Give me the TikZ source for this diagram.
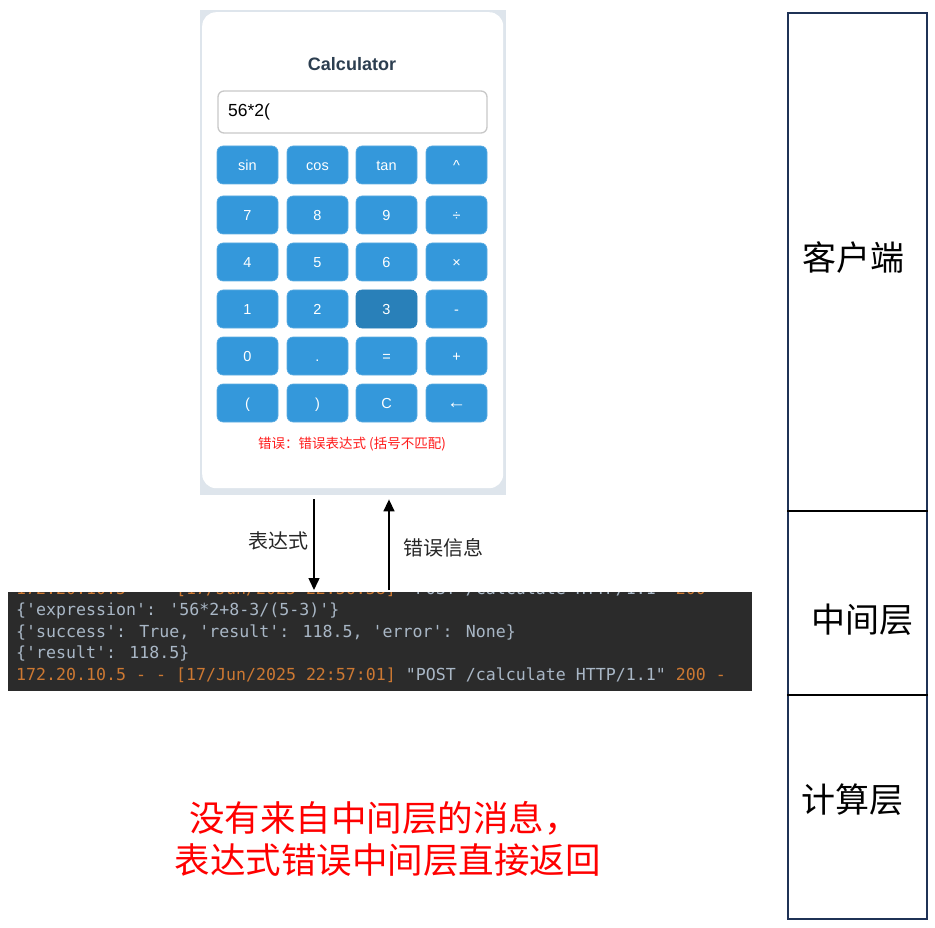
\documentclass[tikz,border=0pt]{standalone}
\usepackage{fontspec}
\setmainfont{Liberation Sans}
\newfontfamily\cjk{Noto Sans CJK SC}
\newfontfamily\mono{DejaVu Sans Mono}
\usetikzlibrary{arrows.meta}
\definecolor{bgc}{HTML}{DEE5EC}
\definecolor{btnc}{HTML}{3498DB}
\definecolor{btnb}{HTML}{5DADE2}
\definecolor{btnd}{HTML}{2980B9}
\definecolor{titlec}{HTML}{2C3E50}
\definecolor{inputb}{HTML}{C8C8C8}
\definecolor{termbg}{HTML}{2B2B2B}
\definecolor{termtxt}{HTML}{A9B7C6}
\definecolor{termor}{HTML}{CC7832}
\definecolor{navy}{HTML}{1F3256}
\definecolor{errred}{HTML}{FF1A1A}
\tikzset{
  btn/.style={fill=btnc, draw=btnb, line width=0.6, rounded corners=6, minimum width=61, minimum height=38, inner sep=0, text=white, text height=10.4pt, text depth=0pt, font=\fontsize{14.5}{16}\selectfont},
  btnpressed/.style={btn, fill=btnd, draw=btnd},
  tline/.style={anchor=base west, inner sep=0, font=\mono\fontsize{16.6}{20}\selectfont, text=termtxt},
  arr/.style={line width=1.5, -{Triangle[length=12pt,width=11pt]}},
  arrlabel/.style={font=\cjk\fontsize{20}{24}\selectfont, text=black!85},
  layerlabel/.style={font=\cjk\fontsize{34}{40}\selectfont, text=black},
  note/.style={font=\cjk\fontsize{35.5}{42}\selectfont, text=red},
}
\begin{document}
\begin{tikzpicture}[x=1pt,y=-1pt]
\useasboundingbox (0,0) rectangle (935,928);
\fill[white] (0,0) rectangle (935,928);

% calculator screenshot
\node[fill=bgc, minimum width=306, minimum height=485, anchor=north west, inner sep=0] (calc) at (200,10) {};
\node[fill=white, rounded corners=14, minimum width=301, minimum height=476, inner sep=0, anchor=north west] (card) at (202,12) {};
\node[font=\bfseries\fontsize{18}{20}\selectfont, text=titlec] (title) at (352,64) {Calculator};
\node[draw=inputb, line width=1.3, fill=white, rounded corners=6, minimum width=269, minimum height=42, inner sep=0] (input) at (352.5,112) {};
\node[anchor=west, inner sep=0, font=\fontsize{17.5}{20}\selectfont] (inputtxt) at (228,112) {56*2(};

\node[btn] (b11) at (247.5,165) {sin};
\node[btn] (b12) at (317.5,165) {cos};
\node[btn] (b13) at (386.5,165) {tan};
\node[btn] (b14) at (456.5,165) {\textasciicircum};
\node[btn] (b21) at (247.5,215) {7};
\node[btn] (b22) at (317.5,215) {8};
\node[btn] (b23) at (386.5,215) {9};
\node[btn] (b24) at (456.5,215) {÷};
\node[btn] (b31) at (247.5,262) {4};
\node[btn] (b32) at (317.5,262) {5};
\node[btn] (b33) at (386.5,262) {6};
\node[btn] (b34) at (456.5,262) {×};
\node[btn] (b41) at (247.5,309) {1};
\node[btn] (b42) at (317.5,309) {2};
\node[btnpressed] (b43) at (386.5,309) {3};
\node[btn] (b44) at (456.5,309) {-};
\node[btn] (b51) at (247.5,356) {0};
\node[btn] (b52) at (317.5,356) {.};
\node[btn] (b53) at (386.5,356) {=};
\node[btn] (b54) at (456.5,356) {+};
\node[btn] (b61) at (247.5,403) {(};
\node[btn] (b62) at (317.5,403) {)};
\node[btn] (b63) at (386.5,403) {C};
\node[btn] (b64) at (456.5,403) {\raisebox{-0.5pt}{\fontsize{19}{19}\selectfont ←}};

\node[text=errred, font=\cjk\fontsize{13.5}{15}\selectfont] (err) at (352,444) {错误：错误表达式 (括号不匹配)};

% terminal
\node[fill=termbg, minimum width=744, minimum height=99, anchor=north west, inner sep=0] (term) at (8,592) {};
\begin{scope}
\clip (8,592) rectangle (752,691);
\node[tline] (l0) at (16,594) {\textcolor{termor}{172.20.10.5 - - [17/Jun/2025 22:56:58]} "POST /calculate HTTP/1.1" \textcolor{termor}{200 -}};
\end{scope}
\node[tline] (l1) at (16,615) {\{'expression': '56*2+8-3/(5-3)'\}};
\node[tline] (l2) at (16,637) {\{'success': True, 'result': 118.5, 'error': None\}};
\node[tline] (l3) at (16,658) {\{'result': 118.5\}};
\node[tline] (l4) at (16,680) {\textcolor{termor}{172.20.10.5 - - [17/Jun/2025 22:57:01]} "POST /calculate HTTP/1.1" \textcolor{termor}{200 -}};

% arrows
\coordinate (dx) at (314,0);
\coordinate (ux) at (389,0);
\draw[arr, shorten <=4pt, shorten >=2pt] (calc.south -| dx) -- (term.north -| dx);
\draw[arr, shorten <=2pt, shorten >=4pt] (term.north -| ux) -- (calc.south -| ux);
\node[arrlabel] (lab1) at (278,541) {表达式};
\node[arrlabel] (lab2) at (443,548) {错误信息};

% layer column
\node[draw=navy, line width=2, minimum width=139, minimum height=906, anchor=north west, inner sep=0] (col) at (787,12) {};
\coordinate (s1) at (0,511);
\coordinate (s2) at (0,695);
\draw[line width=1.6] (col.west |- s1) -- (col.east |- s1);
\draw[line width=1.6] (col.west |- s2) -- (col.east |- s2);
\node[layerlabel] (client) at (853,258) {客户端};
\node[layerlabel] (middle) at (862,620) {中间层};
\node[layerlabel] (compute) at (852,800) {计算层};

% note
\node[note] (note1) at (384.5,818) {没有来自中间层的消息，};
\node[note] (note2) at (387.5,860) {表达式错误中间层直接返回};
\end{tikzpicture}
\end{document}
